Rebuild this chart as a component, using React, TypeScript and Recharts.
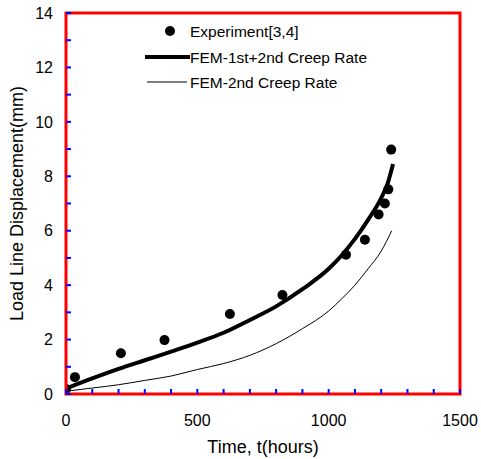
import React from "react";
import {
  ComposedChart,
  Line,
  Scatter,
  XAxis,
  YAxis,
  Legend,
} from "recharts";

// experiment points
const expTime = [0, 34, 209, 375, 624, 824, 1066, 1138, 1190, 1214, 1227, 1238];
const expDisp = [0.18, 0.62, 1.5, 1.98, 2.94, 3.64, 5.12, 5.67, 6.6, 7.0, 7.52, 8.98];

// FEM-1st+2nd creep rate
const fem1Time = [0, 100, 200, 300, 400, 500, 600, 700, 800, 900, 1000, 1050, 1100, 1150, 1200, 1225, 1245];
const fem1Disp = [0.2, 0.57, 0.92, 1.24, 1.56, 1.89, 2.25, 2.72, 3.22, 3.85, 4.6, 5.1, 5.7, 6.4, 7.2, 7.75, 8.45];

// FEM-2nd creep rate
const fem2Time = [0, 100, 200, 300, 400, 500, 600, 700, 800, 900, 1000, 1050, 1100, 1150, 1200, 1240];
const fem2Disp = [0.1, 0.22, 0.34, 0.5, 0.66, 0.9, 1.12, 1.42, 1.85, 2.4, 3.05, 3.5, 4.0, 4.6, 5.25, 6.0];

const xTicks = [0, 100, 200, 300, 400, 500, 600, 700, 800, 900, 1000, 1100, 1200, 1300, 1400, 1500];
const yTicks = [0, 1, 2, 3, 4, 5, 6, 7, 8, 9, 10, 11, 12, 13, 14];
const legendLabels = ["Experiment[3,4]", "FEM-1st+2nd Creep Rate", "FEM-2nd Creep Rate"];

const FONT = '"Liberation Sans", Arial, sans-serif';
const W = 481;
const H = 459;
const MARGIN = { top: 13, right: 21, bottom: 0, left: 0 };
const Y_AXIS_W = 66;
const X_AXIS_H = 65;
const X_MAX = 1500;
const Y_MAX = 14;
const TICK_LEN = 5;

const plotLeft = MARGIN.left + Y_AXIS_W;
const plotTop = MARGIN.top;
const plotW = W - plotLeft - MARGIN.right;
const plotH = H - plotTop - MARGIN.bottom - X_AXIS_H;

const expData = expTime.map((t, i) => ({ t, d: expDisp[i] }));
const fem1Data = fem1Time.map((t, i) => ({ t, d: fem1Disp[i] }));
const fem2Data = fem2Time.map((t, i) => ({ t, d: fem2Disp[i] }));

// frame + inward ticks drawn on top of the chart
const Frame = () => (
  <svg
    width={W}
    height={H}
    style={{ position: "absolute", left: 0, top: 0, pointerEvents: "none", zIndex: 5 }}
  >
    <rect x={plotLeft} y={plotTop} width={plotW} height={plotH} fill="none" stroke="red" strokeWidth={3} />
    {xTicks.map((v) => {
      const px = plotLeft + (v / X_MAX) * plotW;
      return (
        <line key={`x${v}`} x1={px} x2={px} y1={plotTop + plotH} y2={plotTop + plotH - TICK_LEN} stroke="blue" strokeWidth={2} />
      );
    })}
    {yTicks.map((v) => {
      const py = plotTop + plotH - (v / Y_MAX) * plotH;
      return (
        <line key={`y${v}`} x1={plotLeft} x2={plotLeft + TICK_LEN} y1={py} y2={py} stroke="blue" strokeWidth={2} />
      );
    })}
  </svg>
);

const YLabel = (props: any) => {
  const { viewBox } = props;
  const cx = viewBox.x + 17;
  const cy = viewBox.y + viewBox.height / 2;
  return (
    <text
      x={cx}
      y={cy}
      transform={`rotate(-90, ${cx}, ${cy})`}
      textAnchor="middle"
      dominantBaseline="central"
      fontSize={18}
      fill="#000"
    >
      Load Line Displacement(mm)
    </text>
  );
};

const renderLegend = () => (
  <svg width={260} height={80} style={{ fontFamily: FONT }}>
    <circle cx={30} cy={13} r={5} fill="#000" />
    <text x={50} y={13} fontSize={15.5} dominantBaseline="central" fill="#000">
      {legendLabels[0]}
    </text>
    <line x1={5} x2={50} y1={39} y2={39} stroke="#000" strokeWidth={4} />
    <text x={50} y={39} fontSize={15.5} dominantBaseline="central" fill="#000">
      {legendLabels[1]}
    </text>
    <line x1={7} x2={47} y1={64} y2={64} stroke="#000" strokeWidth={1} />
    <text x={50} y={64} fontSize={15.5} dominantBaseline="central" fill="#000">
      {legendLabels[2]}
    </text>
  </svg>
);

const App = () => {
  return (
    <div style={{ position: "absolute", left: 0, top: 0, width: W, height: H, background: "#fff" }}>
      <ComposedChart width={W} height={H} margin={MARGIN} style={{ fontFamily: FONT }}>
        <XAxis
          dataKey="t"
          type="number"
          domain={[0, X_MAX]}
          ticks={xTicks}
          allowDataOverflow
          height={X_AXIS_H}
          tickSize={0}
          tickMargin={21}
          axisLine={false}
          tickLine={false}
          tick={{ fill: "#000", fontSize: 16 }}
          tickFormatter={(v: number) => (v % 500 === 0 ? String(v) : "")}
          interval={0}
          label={{
            value: "Time, t(hours)",
            position: "insideBottom",
            offset: 6,
            fill: "#000",
            fontSize: 18,
          }}
        />
        <YAxis
          type="number"
          domain={[0, Y_MAX]}
          ticks={yTicks}
          allowDataOverflow
          width={Y_AXIS_W}
          tickSize={0}
          tickMargin={13}
          axisLine={false}
          tickLine={false}
          tick={{ fill: "#000", fontSize: 16 }}
          tickFormatter={(v: number) => (v % 2 === 0 ? String(v) : "")}
          interval={0}
          label={<YLabel />}
        />
        <Line
          data={fem2Data}
          dataKey="d"
          type="monotone"
          stroke="#000"
          strokeWidth={1}
          dot={false}
          isAnimationActive={false}
        />
        <Line
          data={fem1Data}
          dataKey="d"
          type="monotone"
          stroke="#000"
          strokeWidth={4}
          dot={false}
          isAnimationActive={false}
        />
        <Scatter
          data={expData}
          dataKey="d"
          fill="#000"
          isAnimationActive={false}
          shape={(props: any) => <circle cx={props.cx} cy={props.cy} r={5} fill="#000" />}
        />
        <Legend
          layout="vertical"
          align="center"
          verticalAlign="middle"
          content={renderLegend}
          wrapperStyle={{ left: 140, top: 18, width: 260, height: 80 }}
        />
      </ComposedChart>
      <Frame />
    </div>
  );
};

export default App;
